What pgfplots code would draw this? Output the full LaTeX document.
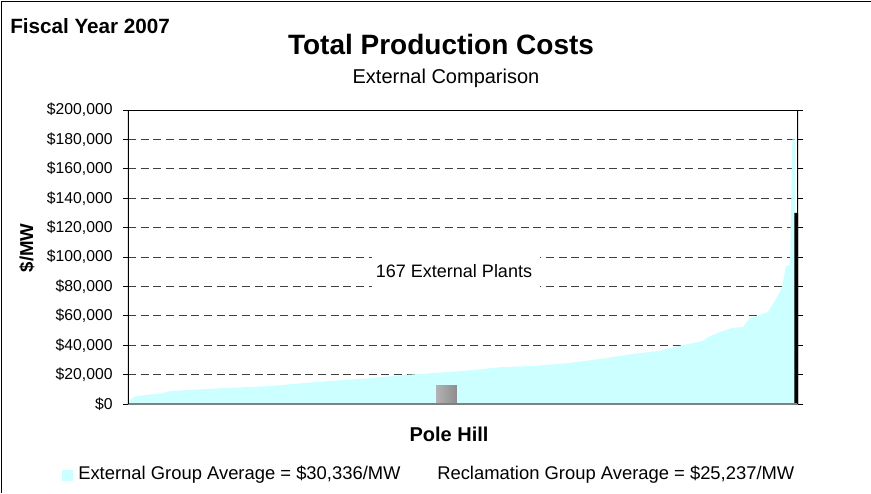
\documentclass[border=0pt]{standalone}
\usepackage{fontspec}
\setmainfont{Liberation Sans}
\usepackage{pgfplots}
\pgfplotsset{compat=1.18}
\definecolor{areacyan}{HTML}{CCFFFF}
\definecolor{gridgray}{HTML}{404040}
\begin{document}
\begin{tikzpicture}[x=0.75pt,y=-0.75pt]
\useasboundingbox (0,0) rectangle (871,493);
\begin{axis}[
  at={(96pt,-303pt)}, anchor=south west,
  scale only axis, width=502.5pt, height=220.5pt,
  xmin=0, xmax=167, ymin=0, ymax=200000,
  xtick=\empty,
  ytick={0,20000,40000,60000,80000,100000,120000,140000,160000,180000,200000},
  yticklabels={{\$0},{\$20,000},{\$40,000},{\$60,000},{\$80,000},{\$100,000},{\$120,000},{\$140,000},{\$160,000},{\$180,000},{\$200,000}},
  scaled y ticks=false,
  ymajorgrids,
  grid style={gridgray, dash pattern=on 6pt off 3.5pt, line width=0.6pt},
  tick align=outside, major tick length=4pt,
  y tick style={black, line width=0.6pt},
  yticklabel style={font=\fontsize{11.8}{13}\selectfont, xshift=-4pt},
  axis line style={draw=none},
]
\addplot[fill=areacyan, draw=none] coordinates {
(0,1500) (1.5,5000) (3.7,5900) (8.7,7300) (10.5,8800) (23,10700) (35.4,12200)
(47.9,15200) (60.3,17500) (68.6,19700) (72.8,20400) (84.5,22700) (92.7,25000)
(101,25900) (109.4,27700) (117.6,30600) (125.8,34000) (132.6,36300) (138.3,40100)
(142.6,42400) (143.3,43000) (144.6,45600) (147.6,49000) (150.6,51700) (153.3,52400)
(155,58500) (159.5,62500) (161.8,73000) (163,79000) (164,94000) (165,94500)
(165.6,180000) (166.2,180000)
} \closedcycle;
\addplot[draw=none, left color=black!30, middle color=black!60, right color=black!45] coordinates {
(76.8,0) (76.8,12900) (82,12900) (82,0)} \closedcycle;
\addplot[fill=black, draw=none] coordinates {
(166.1,0) (166.1,130000) (167,130000) (167,0)} \closedcycle;
\draw[gray, line width=0.8pt] (rel axis cs:0,0) -- (rel axis cs:1,0);
\draw[black, line width=1.5pt] (rel axis cs:0,0) -- (rel axis cs:0,1) -- (rel axis cs:1,1) -- (rel axis cs:1,0);
\end{axis}
\draw[black, line width=0.9pt] (1.5,493) -- (1.5,1.5) -- (871,1.5);
\fill[white] (372,251) rectangle (540,293);
\node[anchor=base, inner sep=0pt, font=\fontsize{13.5}{15}\selectfont] at (454,277) {167 External Plants};
\node[anchor=base west, inner sep=0pt, font=\fontsize{15.5}{17}\selectfont\bfseries] at (10,33) {Fiscal Year 2007};
\node[anchor=base, inner sep=0pt, font=\fontsize{21}{24}\selectfont\bfseries] at (441,54) {Total Production Costs};
\node[anchor=base, inner sep=0pt, font=\fontsize{15}{17}\selectfont] at (446,83) {External Comparison};
\node[rotate=90, inner sep=0pt, font=\fontsize{14}{16}\selectfont\bfseries] at (27,248) {\$/MW};
\node[anchor=base, inner sep=0pt, font=\fontsize{15}{17}\selectfont\bfseries] at (449,441) {Pole Hill};
\fill[areacyan] (62,470) rectangle (73,481);
\node[anchor=base west, inner sep=0pt, font=\fontsize{13.8}{15}\selectfont] at (78,479) {External Group Average = \$30,336/MW};
\node[anchor=base west, inner sep=0pt, font=\fontsize{13.8}{15}\selectfont] at (437,479) {Reclamation Group Average = \$25,237/MW};
\end{tikzpicture}
\end{document}
